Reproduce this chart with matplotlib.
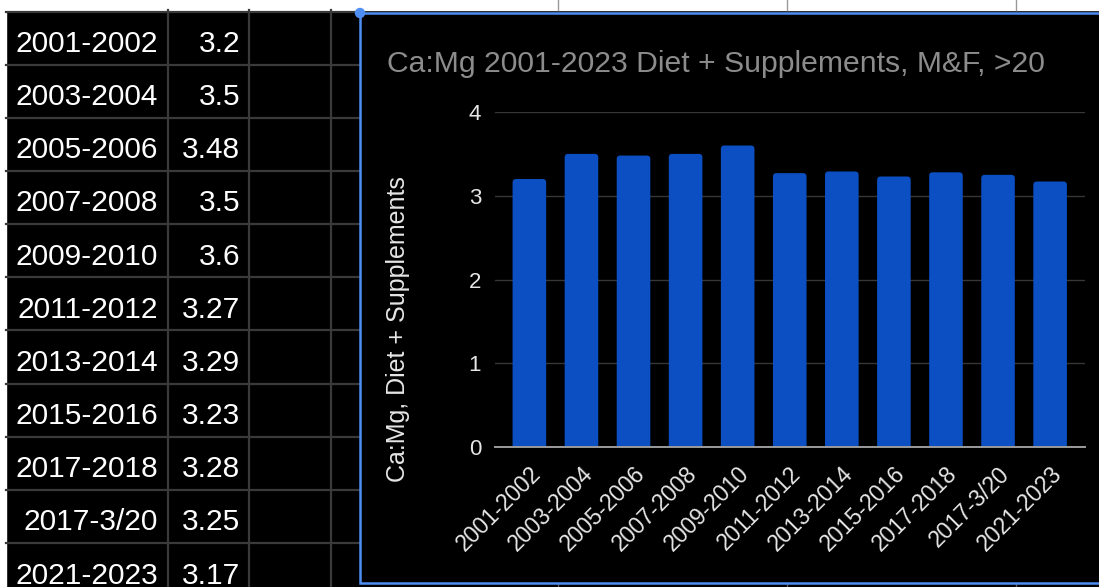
import matplotlib
matplotlib.use("Agg")
import matplotlib.pyplot as plt
from matplotlib.patches import FancyBboxPatch, Rectangle, Circle
from matplotlib.lines import Line2D
from matplotlib.transforms import ScaledTranslation

# ---------------- data ----------------
periods = ["2001-2002", "2003-2004", "2005-2006", "2007-2008", "2009-2010",
           "2011-2012", "2013-2014", "2015-2016", "2017-2018", "2017-3/20",
           "2021-2023"]
ratio_text = ["3.2", "3.5", "3.48", "3.5", "3.6", "3.27", "3.29", "3.23",
              "3.28", "3.25", "3.17"]
ratios = [float(v) for v in ratio_text]
y_ticks = [0, 1, 2, 3, 4]
title = "Ca:Mg 2001-2023 Diet + Supplements, M&F, >20"
y_label = "Ca:Mg, Diet + Supplements"

# ---------------- style ----------------
FONT = "Liberation Sans"
W, H = 1099, 587
BAR = "#0b4fc3"
GRIDC = "#3a3a3a"
SEL = "#4f8ef5"

fig = plt.figure(figsize=(W / 100, H / 100), dpi=100, facecolor="black")

# ---- background sheet layer (pixel coordinates) ----
bg = fig.add_axes([0, 0, 1, 1])
bg.set_xlim(0, W)
bg.set_ylim(H, 0)
bg.axis("off")
bg.set_facecolor("black")
bg.add_patch(Rectangle((0, 0), W, 9.5, color="white", zorder=0))
bg.add_patch(Rectangle((0, 0), 6, H, color="white", zorder=0))

row_h = 53.15
top = 11.5
for i in range(len(periods) + 1):
    y = top + row_h * i
    bg.add_line(Line2D([6, 360], [y, y], color=GRIDC, lw=1.6, zorder=1))
for x in [168, 249, 331]:
    bg.add_line(Line2D([x, x], [10, H], color=GRIDC, lw=1.6, zorder=1))
for x in [558, 787, 1016]:
    bg.add_line(Line2D([x, x], [0, 10], color="#9a9a9a", lw=1.0, zorder=1))
    bg.add_line(Line2D([x, x], [584, H], color="#5a5a5a", lw=1.0, zorder=1))

for i, (p, v) in enumerate(zip(periods, ratio_text)):
    yb = 52 + row_h * i
    bg.text(158, yb, p, color="white", fontsize=21.5, family=FONT,
            ha="right", va="baseline", zorder=2)
    bg.text(240, yb, v, color="white", fontsize=21.5, family=FONT,
            ha="right", va="baseline", zorder=2)

# chart frame
bg.add_patch(Rectangle((360, 13), 800, 570, facecolor="black",
                       edgecolor=SEL, lw=1.8, zorder=3))
bg.add_patch(Circle((360, 13), 4.5, color=SEL, zorder=4))
bg.text(387, 72, title, color="#8c8c8c", fontsize=21.7, family=FONT,
        ha="left", va="baseline", zorder=5)

# ---- chart axes ----
x0, x1, yb0, yt = 495, 1085, 447, 112
ax = fig.add_axes([x0 / W, (H - yb0) / H, (x1 - x0) / W, (yb0 - yt) / H])
ax.set_facecolor("none")
ax.set_zorder(6)
xs = list(range(len(periods)))
bars = ax.bar(xs, ratios, width=0.645, color=BAR, zorder=3)
ax.set_xlim(-0.66, 10.67)
ax.set_ylim(0, 4)

# rounded top corners
px_x = (x1 - x0) / (10.67 + 0.66)
px_y = (yb0 - yt) / 4.0
for b in bars:
    b.set_visible(False)
    r = 3.5 / px_x
    fb = FancyBboxPatch((b.get_x(), -0.2), b.get_width(), b.get_height() + 0.2,
                        boxstyle=f"round,pad=0,rounding_size={r}",
                        mutation_aspect=px_x / px_y,
                        facecolor=BAR, edgecolor="none", zorder=3)
    ax.add_patch(fb)

for s in ax.spines.values():
    s.set_visible(False)
ax.set_yticks(y_ticks)
ax.yaxis.grid(True, color="#363636", lw=1.0, zorder=0)
ax.axhline(0, color="#9c9c9c", lw=1.4, zorder=4, clip_on=False)
ax.tick_params(axis="y", length=0, pad=10, labelsize=16, labelcolor="#e6e6e6")
ax.tick_params(axis="x", length=0, pad=11, labelsize=16.5, labelcolor="#e6e6e6")
for lab in ax.get_yticklabels():
    lab.set_family(FONT)
ax.set_xticks(xs)
ax.set_xticklabels(periods, rotation=45, ha="right", va="top", family=FONT)
off = ScaledTranslation(16 / 100, 0, fig.dpi_scale_trans)
for lab in ax.get_xticklabels():
    lab.set_transform(lab.get_transform() + off)

ax.set_ylabel(y_label, color="#e6e6e6", fontsize=18, family=FONT, va="center")
ax.yaxis.set_label_coords((398 - x0) / (x1 - x0), (yb0 - 329) / (yb0 - yt))

fig.savefig("out.png", dpi=100, facecolor="black")
